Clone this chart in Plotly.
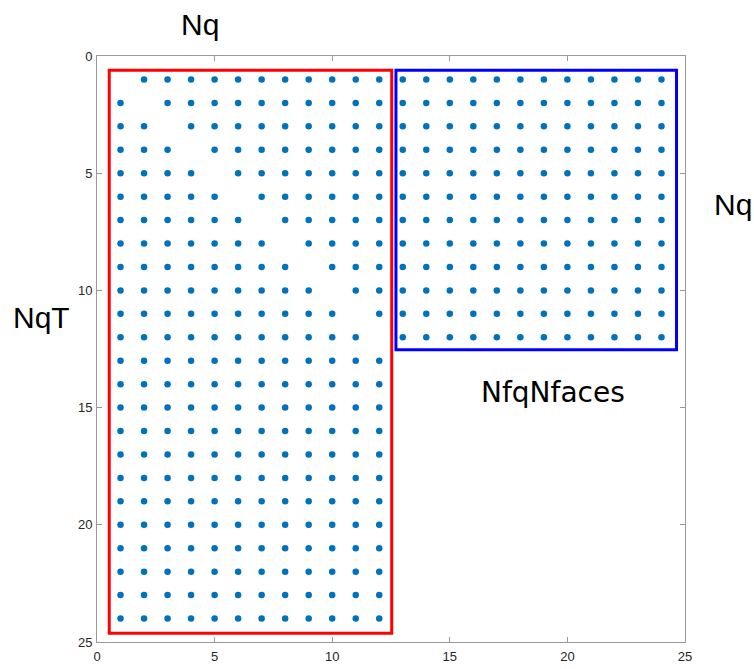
import plotly.graph_objects as go

# Sparsity pattern (spy plot): rows/cols of nonzeros
n_q = 12          # Nq
n_qT = 24         # NqT rows
n_cols = 24
# Left block: rows 1..24, cols 1..12, diagonal of upper 12x12 missing
left_rows = [r for r in range(1, n_qT + 1) for c in range(1, n_q + 1) if not (r <= n_q and r == c)]
left_cols = [c for r in range(1, n_qT + 1) for c in range(1, n_q + 1) if not (r <= n_q and r == c)]
# Right block: rows 1..12, cols 13..24 full
right_rows = [r for r in range(1, n_q + 1) for c in range(n_q + 1, n_cols + 1)]
right_cols = [c for r in range(1, n_q + 1) for c in range(n_q + 1, n_cols + 1)]

rows = left_rows + right_rows
cols = left_cols + right_cols

red_box = [0.52, 0.61, 12.53, 24.63]    # x0, y0, x1, y1
blue_box = [12.71, 0.61, 24.64, 12.53]

tick_vals = [0, 5, 10, 15, 20, 25]

fig = go.Figure()
fig.add_trace(go.Scatter(
    x=cols, y=rows, mode="markers",
    marker=dict(color="#0072BD", size=6.5, line=dict(width=0)),
    hoverinfo="skip", showlegend=False,
))

fig.add_shape(type="rect", x0=red_box[0], y0=red_box[1], x1=red_box[2], y1=red_box[3],
              line=dict(color="#FF0000", width=3), xref="x", yref="y")
fig.add_shape(type="rect", x0=blue_box[0], y0=blue_box[1], x1=blue_box[2], y1=blue_box[3],
              line=dict(color="#0000FF", width=3), xref="x", yref="y")

label_font = dict(family="Liberation Sans, Arial, sans-serif", size=30, color="black")
fig.add_annotation(x=0.1746, y=1.0545, text="Nq", showarrow=False, font=label_font,
                   xref="paper", yref="paper", xanchor="center", yanchor="middle")
fig.add_annotation(x=1.0809, y=0.7474, text="Nq", showarrow=False, font=label_font,
                   xref="paper", yref="paper", xanchor="center", yanchor="middle")
fig.add_annotation(x=-0.0945, y=0.5546, text="NqT", showarrow=False, font=label_font,
                   xref="paper", yref="paper", xanchor="center", yanchor="middle")
fig.add_annotation(x=0.776, y=0.425, text="NfqNfaces", showarrow=False,
                   font=dict(family="DejaVu Sans, sans-serif", size=28, color="black"),
                   xref="paper", yref="paper", xanchor="center", yanchor="middle")

axis_common = dict(
    tickvals=tick_vals, ticktext=[str(v) for v in tick_vals],
    ticks="inside", ticklen=5, tickcolor="#999999", tickwidth=1,
    showline=True, linecolor="#999999", linewidth=1, mirror="ticks",
    showgrid=False, zeroline=False, automargin=False,
    tickfont=dict(family="Liberation Sans, Arial, sans-serif", size=13, color="#262626"),
)
fig.update_xaxes(range=[0, 25], ticklabelstandoff=2, **axis_common)
fig.update_yaxes(range=[25, 0], ticklabelstandoff=1, **axis_common)

fig.update_layout(
    width=754, height=669,
    margin=dict(l=97, r=69, t=56, b=27),
    plot_bgcolor="white", paper_bgcolor="white",
)
fig.write_html("out.html",
               config={"displayModeBar": False},
               post_script="document.body.style.margin='0';document.body.style.overflow='hidden';")
